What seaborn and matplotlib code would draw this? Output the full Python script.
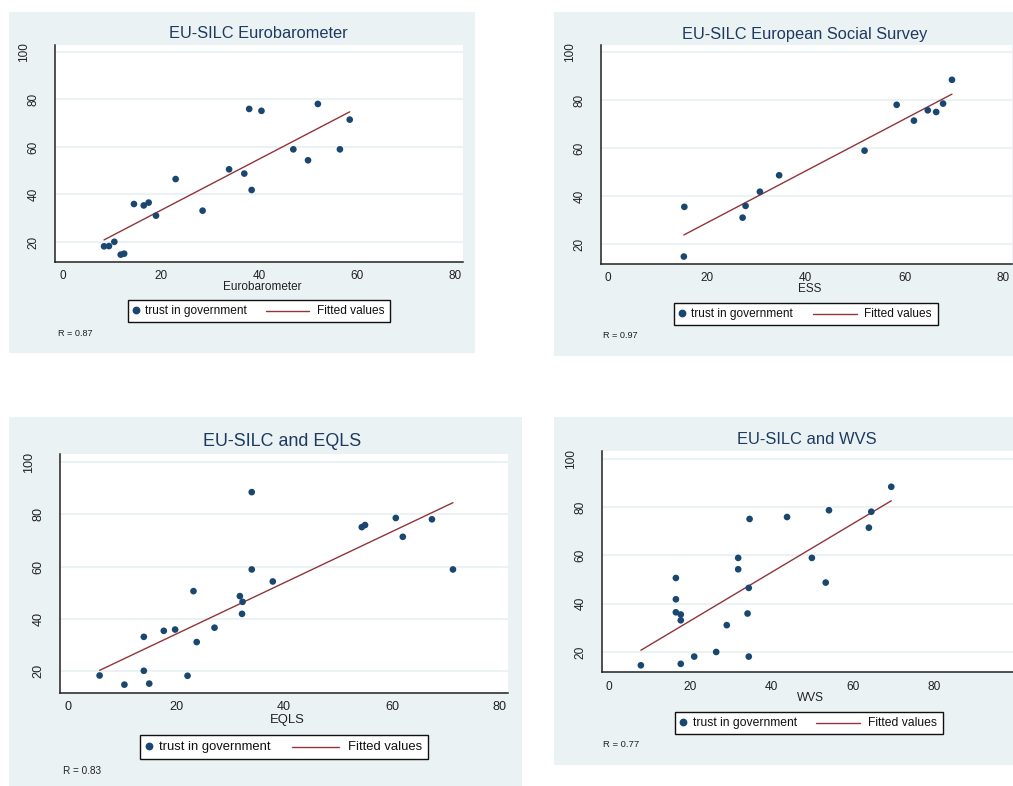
import numpy as np
import pandas as pd
import matplotlib
matplotlib.use("Agg")
import matplotlib.pyplot as plt
import seaborn as sns
from matplotlib.patches import Rectangle
from matplotlib.lines import Line2D

# ---------------- data ----------------
euro_x = [8.4, 9.4, 10.5, 11.8, 12.5, 14.5, 16.5, 17.5, 19.0, 23.0, 28.5,
          33.9, 37.0, 38.0, 38.5, 40.5, 47.0, 50.0, 52.0, 56.5, 58.5]
euro_y = [18.2, 18.3, 20.1, 14.7, 15.1, 36.0, 35.4, 36.6, 31.1, 46.5, 33.2,
          50.6, 48.8, 76.0, 41.9, 75.2, 59.0, 54.4, 78.1, 59.0, 71.5]

ess_x = [15.4, 15.3, 27.2, 27.8, 30.7, 34.6, 51.9, 58.4, 61.9, 64.7, 66.4, 67.8, 69.6]
ess_y = [35.6, 14.9, 31.1, 36.0, 41.9, 48.75, 59.0, 78.1, 71.5, 75.8, 75.1, 78.6, 88.5]

eqls_x = [5.8, 10.4, 14.0, 14.0, 15.0, 17.7, 19.8, 22.1, 23.2, 23.8, 27.1, 31.8,
          32.3, 32.2, 34.0, 34.0, 37.9, 54.4, 55.0, 60.7, 62.0, 67.4, 71.3]
eqls_y = [18.3, 14.8, 33.1, 20.1, 15.2, 35.4, 35.9, 18.2, 50.6, 31.1, 36.6, 48.7,
          46.5, 41.9, 88.5, 58.9, 54.3, 75.1, 75.9, 78.6, 71.4, 78.1, 58.9]

wvs_x = [7.9, 16.5, 16.5, 16.5, 17.7, 17.7, 17.7, 21.0, 26.4, 29.0, 31.8, 31.8,
         34.4, 34.1, 34.4, 34.6, 43.8, 49.9, 53.3, 54.1, 63.9, 64.5, 69.4]
wvs_y = [14.6, 50.7, 41.9, 36.5, 35.6, 33.2, 15.2, 18.2, 20.1, 31.2, 59.0, 54.3,
         46.6, 36.0, 18.2, 75.1, 75.9, 59.0, 48.8, 78.7, 71.5, 78.1, 88.4]

titles = ["EU-SILC Eurobarometer", "EU-SILC European Social Survey",
          "EU-SILC and EQLS", "EU-SILC and WVS"]
xlabels = ["Eurobarometer", "ESS", "EQLS", "WVS"]
r_labels = ["R = 0.87", "R = 0.97", "R = 0.83", "R = 0.77"]
legend_labels = ["trust in government", "Fitted values"]
xticks = [0, 20, 40, 60, 80]
yticks = [20, 40, 60, 80, 100]

# ---------------- style ----------------
sns.set_theme(style="white")
plt.rcParams['font.family'] = ['Liberation Sans', 'DejaVu Sans']

W, H = 1013, 786
BG = "#eaf2f3"
NAVY = "#1a476f"
MAROON = "#90353b"
TITLE_C = "#1f3a60"

fig = plt.figure(figsize=(W / 100, H / 100), dpi=100)
fig.patch.set_facecolor("white")

def fx(px):
    return px / W

def fy(py):
    return 1 - py / H

# layout per panel (pixel coords, top-left origin)
panels = [
    dict(x=euro_x, y=euro_y, bg=(9, 12, 475, 353), ax=(55, 45, 463, 262),
         xlim=(-1.6, 81.6), ylim=(11.6, 102.9), title=(258, 33), xl=287,
         leg=(128, 300, 390, 322, 135.7, 145, 265.7, 309.3, 316.7), r=(58, 333),
         fs=dict(title=11.8, tick=8.5, lab=8.5, leg=8.55, r=6.6)),
    dict(x=ess_x, y=ess_y, bg=(554, 12, 1013, 355.7), ax=(601, 45, 1012, 264),
         xlim=(-1.48, 81.76), ylim=(11.8, 103.0), title=(805, 34), xl=289,
         leg=(674, 302.7, 938.3, 325, 681.7, 691, 813.3, 856.7, 864.3), r=(602.7, 335),
         fs=dict(title=11.8, tick=8.5, lab=8.5, leg=8.55, r=6.6)),
    dict(x=eqls_x, y=eqls_y, bg=(9, 416.7, 521.7, 786), ax=(60, 454, 508, 693),
         xlim=(-1.54, 81.5), ylim=(11.6, 103.1), title=(282, 441.7), xl=720,
         leg=(140, 735, 428.3, 759, 148.7, 159, 291.7, 339.3, 347.7), r=(62.7, 771),
         fs=dict(title=12.9, tick=9.1, lab=9.4, leg=9.4, r=7.2)),
    dict(x=wvs_x, y=wvs_y, bg=(554, 416.7, 1013, 764.7), ax=(601.7, 451, 1013, 672.3),
         xlim=(-1.72, 99.3), ylim=(11.7, 103.2), title=(806.7, 439), xl=698,
         leg=(675.3, 711.7, 942.7, 734, 683, 692.7, 815.7, 860, 867.7), r=(603.3, 744.3),
         fs=dict(title=11.9, tick=8.6, lab=8.6, leg=8.75, r=6.8)),
]

for i, p in enumerate(panels):
    # graph region background
    x0, y0, x1, y1 = p["bg"]
    fig.add_artist(Rectangle((fx(x0), fy(y1)), fx(x1 - x0), (y1 - y0) / H,
                             transform=fig.transFigure, facecolor=BG,
                             edgecolor="none", zorder=0))
    a0, b0, a1, b1 = p["ax"]
    ax = fig.add_axes([fx(a0), fy(b1), fx(a1 - a0), (b1 - b0) / H])
    ax.set_facecolor("white")
    df = pd.DataFrame({"x": p["x"], "y": p["y"]})
    sns.regplot(data=df, x="x", y="y", ax=ax, scatter=False, ci=None,
                line_kws=dict(color=MAROON, lw=1.0, zorder=3))
    sns.scatterplot(data=df, x="x", y="y", ax=ax, color=NAVY, s=23,
                    edgecolor="none", zorder=4)
    ax.set_xlim(*p["xlim"])
    ax.set_ylim(*p["ylim"])
    ax.set_xticks(xticks)
    ax.set_yticks(yticks)
    ax.set_xticklabels([str(t) for t in xticks], fontsize=p["fs"]["tick"], color="#222222")
    ax.set_yticklabels([str(t) for t in yticks], fontsize=p["fs"]["tick"], color="#222222",
                       rotation=90, va="center")
    ax.tick_params(axis="x", direction="out", length=4, width=0.9, color="#333333", pad=2)
    ax.tick_params(axis="y", direction="out", length=4, width=0.9, color="#333333", pad=7)
    # the top label sits further out, as in the reference
    ax.yaxis.get_major_ticks()[-1].set_pad(14)
    ax.yaxis.grid(True, color=BG, lw=1.5)
    ax.xaxis.grid(False)
    ax.set_axisbelow(True)
    for s in ["top", "right"]:
        ax.spines[s].set_visible(False)
    for s in ["left", "bottom"]:
        ax.spines[s].set_color("#222222")
        ax.spines[s].set_linewidth(1.1)
    ax.set_xlabel("")
    ax.set_ylabel("")

    # title
    tx, ty = p["title"]
    fig.text(fx(tx), fy(ty), titles[i], ha="center", va="center",
             fontsize=p["fs"]["title"], color=TITLE_C)
    # x label
    fig.text(fx((a0 + a1) / 2 + 3), fy(p["xl"]), xlabels[i], ha="center", va="center",
             fontsize=p["fs"]["lab"], color="#222222")

    # legend (manual box)
    lx0, ly0, lx1, ly1, mx, t1, l0, l1, t2 = p["leg"]
    fig.add_artist(Rectangle((fx(lx0), fy(ly1)), fx(lx1 - lx0), (ly1 - ly0) / H,
                             transform=fig.transFigure, facecolor="white",
                             edgecolor="#111111", lw=1.0, zorder=5))
    ly = (ly0 + ly1) / 2
    fig.add_artist(Line2D([fx(mx)], [fy(ly - 1)], transform=fig.transFigure,
                          marker="o", markersize=4.6, color=NAVY, lw=0, zorder=6))
    fig.text(fx(t1), fy(ly), legend_labels[0], ha="left", va="center",
             fontsize=p["fs"]["leg"], color="#111111", zorder=6)
    fig.add_artist(Line2D([fx(l0), fx(l1)], [fy(ly), fy(ly)], transform=fig.transFigure,
                          color=MAROON, lw=1.0, zorder=6))
    fig.text(fx(t2), fy(ly), legend_labels[1], ha="left", va="center",
             fontsize=p["fs"]["leg"], color="#111111", zorder=6)

    # R note
    rx, ry = p["r"]
    fig.text(fx(rx), fy(ry), r_labels[i], ha="left", va="center",
             fontsize=p["fs"]["r"], color="#222222")

fig.savefig("out.png", dpi=100, facecolor="white")
